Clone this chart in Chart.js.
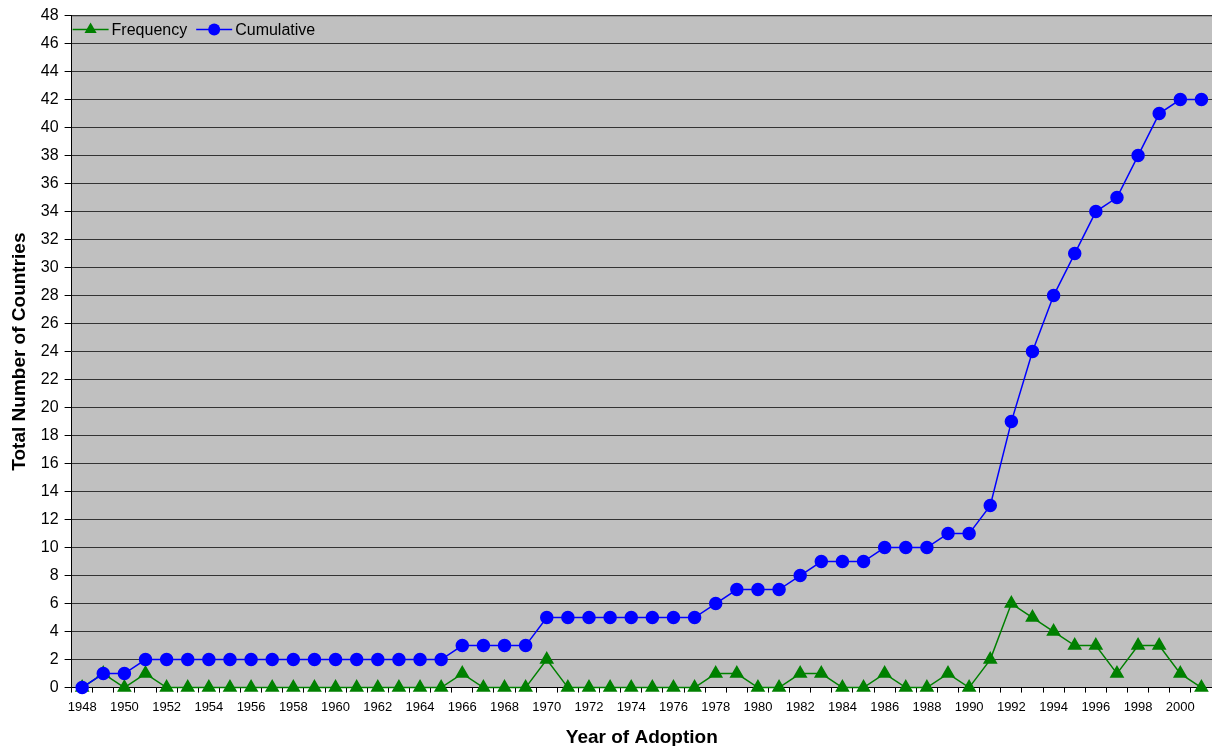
<!DOCTYPE html>
<html>
<head>
<meta charset="utf-8">
<script src="https://cdn.jsdelivr.net/npm/chart.js@4"></script>
<style>
  html, body { margin: 0; padding: 0; background: #fff; }
  #wrap { width: 1212px; height: 746px; }
</style>
</head>
<body>
<div id="wrap"><canvas id="adoptionChart" width="1212" height="746"></canvas></div>
<script>
// Années 1948 - 2001
const years = [];
for (let y = 1948; y <= 2001; y++) years.push(String(y));

const frequency = [0, 1, 0, 1, 0, 0, 0, 0, 0, 0, 0, 0, 0, 0, 0, 0, 0, 0, 1, 0, 0, 0, 2, 0, 0, 0, 0, 0, 0, 0, 1, 1, 0, 0, 1, 1, 0, 0, 1, 0, 0, 1, 0, 2, 6, 5, 4, 3, 3, 1, 3, 3, 1, 0];
const cumulative = [0, 1, 1, 2, 2, 2, 2, 2, 2, 2, 2, 2, 2, 2, 2, 2, 2, 2, 3, 3, 3, 3, 5, 5, 5, 5, 5, 5, 5, 5, 6, 7, 7, 7, 8, 9, 9, 9, 10, 10, 10, 11, 11, 13, 19, 24, 28, 31, 34, 35, 38, 41, 42, 42];

const yTicks = { min: 0, max: 48, step: 2 };

const FONT = 'Arial, "Liberation Sans", sans-serif';

// Fond gris de la zone de tracé + bordure haute
const plotBackground = {
    id: 'plotBackground',
    beforeDraw(chart) {
        const { ctx, chartArea: a } = chart;
        ctx.save();
        ctx.fillStyle = '#C0C0C0';
        ctx.fillRect(a.left, a.top, a.right - a.left, a.bottom - a.top);
        ctx.strokeStyle = '#808080';
        ctx.lineWidth = 1;
        ctx.beginPath();
        ctx.moveTo(a.left, a.top + 0.5);
        ctx.lineTo(a.right, a.top + 0.5);
        ctx.stroke();
        ctx.restore();
    }
};

// Légende dessinée à l'intérieur du graphique, en haut à gauche
const innerLegend = {
    id: 'innerLegend',
    afterDraw(chart) {
        const { ctx, chartArea: a } = chart;
        const y = a.top + 14;
        let x = a.left + 1;
        ctx.save();
        ctx.font = '16px ' + FONT;
        ctx.textBaseline = 'middle';
        chart.data.datasets.forEach(ds => {
            ctx.strokeStyle = ds.borderColor;
            ctx.lineWidth = 1.5;
            ctx.beginPath();
            ctx.moveTo(x, y);
            ctx.lineTo(x + 36, y);
            ctx.stroke();
            ctx.fillStyle = ds.pointBackgroundColor;
            ctx.beginPath();
            if (ds.pointStyle === 'triangle') {
                const r = 7;
                ctx.moveTo(x + 18, y - r);
                ctx.lineTo(x + 18 + r * 0.87, y + r * 0.5);
                ctx.lineTo(x + 18 - r * 0.87, y + r * 0.5);
                ctx.closePath();
            } else {
                ctx.arc(x + 18, y, 6, 0, Math.PI * 2);
            }
            ctx.fill();
            ctx.fillStyle = '#000';
            ctx.fillText(ds.label, x + 39, y + 1);
            x += 39 + ctx.measureText(ds.label).width + 9;
        });
        ctx.restore();
    }
};

const ctx = document.getElementById('adoptionChart').getContext('2d');

new Chart(ctx, {
    type: 'line',
    data: {
        labels: years,
        datasets: [{
            label: 'Frequency',
            data: frequency,
            borderColor: '#008000',
            backgroundColor: '#008000',
            pointBackgroundColor: '#008000',
            pointBorderColor: '#008000',
            pointStyle: 'triangle',
            pointRadius: 7,
            borderWidth: 1.5,
            tension: 0,
            clip: false,
            order: 1
        }, {
            label: 'Cumulative',
            data: cumulative,
            borderColor: '#0000FF',
            backgroundColor: '#0000FF',
            pointBackgroundColor: '#0000FF',
            pointBorderColor: '#0000FF',
            pointStyle: 'circle',
            pointRadius: 6,
            borderWidth: 1.5,
            tension: 0,
            clip: false,
            order: 0
        }]
    },
    options: {
        responsive: false,
        animation: false,
        layout: {
            autoPadding: false,
            padding: { top: 15, right: -3, left: 8, bottom: -3 }
        },
        plugins: {
            legend: { display: false },
            tooltip: { enabled: false }
        },
        scales: {
            y: {
                min: yTicks.min,
                max: yTicks.max,
                ticks: {
                    stepSize: yTicks.step,
                    color: '#000',
                    font: { family: FONT, size: 16 },
                    padding: 6
                },
                grid: {
                    color: '#333',
                    lineWidth: 1,
                    tickColor: '#000',
                    tickLength: 7
                },
                border: { color: '#000', width: 1 },
                title: {
                    display: true,
                    text: 'Total Number of Countries',
                    color: '#000',
                    font: { family: FONT, size: 19, weight: 'bold' },
                    padding: { top: 0, bottom: 4 }
                }
            },
            x: {
                offset: true,
                afterFit(scale) {
                    // pas de marge réservée pour la dernière étiquette
                    scale.paddingRight = 0;
                },
                ticks: {
                    autoSkip: false,
                    maxRotation: 0,
                    color: '#000',
                    font: { family: FONT, size: 13 },
                    padding: 7,
                    callback: function(value, index) {
                        return index % 2 === 0 ? this.getLabelForValue(value) : '';
                    }
                },
                grid: {
                    offset: true,
                    drawOnChartArea: false,
                    tickColor: '#000',
                    tickLength: 5
                },
                border: { color: '#000', width: 1 },
                title: {
                    display: true,
                    text: 'Year of Adoption',
                    color: '#000',
                    font: { family: FONT, size: 19, weight: 'bold' },
                    padding: { top: 4, bottom: 0 }
                }
            }
        }
    },
    plugins: [plotBackground, innerLegend]
});
</script>
</body>
</html>
